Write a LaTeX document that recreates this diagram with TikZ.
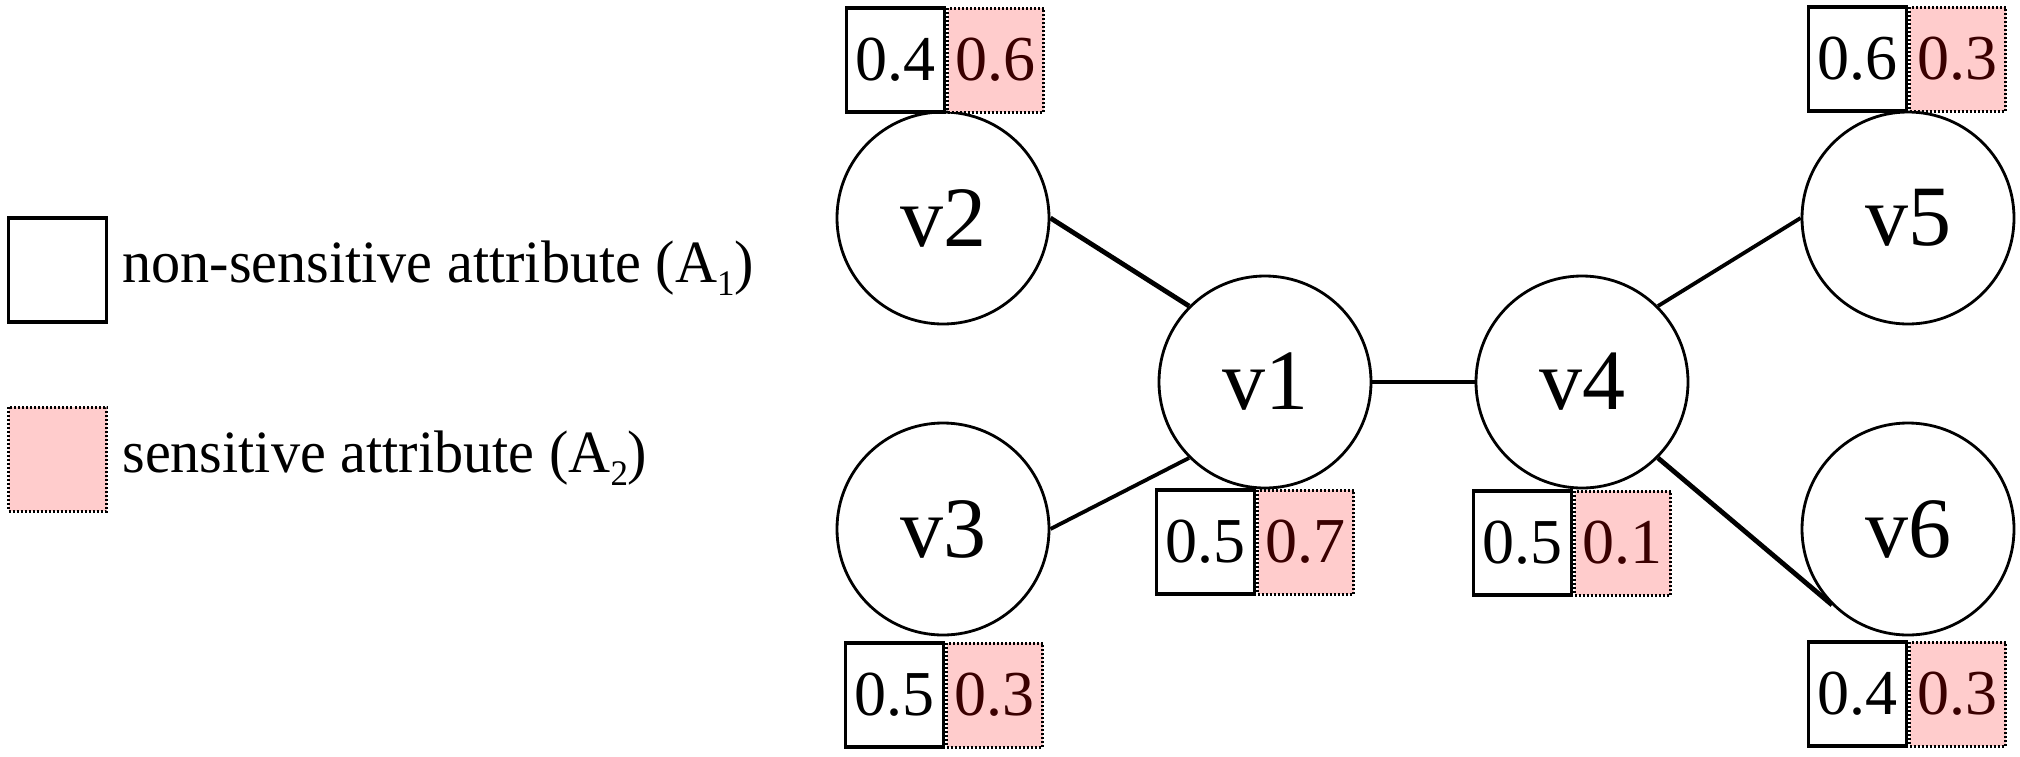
\documentclass[tikz,border=0pt]{standalone}
\usepackage{fontspec}
\setmainfont{Liberation Serif}
\newfontfamily\legendfont{Liberation Serif}[FakeStretch=0.97]
\newcommand{\mysub}[1]{\raisebox{-6.5pt}{\fontsize{18}{18}\selectfont #1}}
\definecolor{pinkA}{HTML}{FFCCCC}
\definecolor{darkredA}{HTML}{3A0000}
\begin{document}
\begin{tikzpicture}[x=0.5pt,y=-0.5pt,
  vnode/.style={circle,draw,line width=1.4pt,minimum size=106pt,inner sep=0pt,fill=white,font=\fontsize{43}{43}\selectfont},
  nsbox/.style={draw,line width=1.6pt,minimum width=49pt,minimum height=52pt,inner sep=0pt,font=\fontsize{32}{32}\selectfont},
  sbox/.style={draw,fill=pinkA,dash pattern=on 1pt off 1pt,line width=1.5pt,minimum width=48pt,minimum height=52pt,inner sep=0pt,text=darkredA,font=\fontsize{32}{32}\selectfont},
  lgwhite/.style={draw,line width=1.6pt,minimum width=49pt,minimum height=52pt,inner sep=0pt},
  lgpink/.style={draw,fill=pinkA,dash pattern=on 1pt off 1pt,line width=1.5pt,minimum width=49pt,minimum height=52pt,inner sep=0pt},
  lgtext/.style={anchor=base west,inner sep=0pt,font=\legendfont\fontsize{30}{30}\selectfont},
  edgeA/.style={line width=2.4pt},
  edgeB/.style={line width=1.9pt}]
\useasboundingbox (0,0) rectangle (2020,756);

% legend
\node[lgwhite] (lw) at (57.5,270) {};
\node[lgpink] (lp) at (57.5,459) {};
\node[lgtext] (lt1) at (122,282) {non-sensitive attribute (A\mysub{1})};
\node[lgtext] (lt2) at (122,472) {sensitive attribute (A\mysub{2})};

% vertices
\node[vnode] (v1) at (1265,382) {v1};
\node[vnode] (v2) at (943,218) {v2};
\node[vnode] (v3) at (943,529) {v3};
\node[vnode] (v4) at (1582,382) {v4};
\node[vnode] (v5) at (1908,218) {v5};
\node[vnode] (v6) at (1908,529) {v6};

% edges
\draw[edgeA] (v2.east) -- (v1.north west);
\draw[edgeB] (v3.east) -- (v1.south west);
\draw[edgeA] (v1.east) -- (v4.west);
\draw[edgeB] (v4.north east) -- (v5.west);
\draw[edgeA] (v4.south east) -- (v6.south west);

% attribute boxes
\node[sbox,anchor=west] (v2s) at (946,60) {0.6};
\node[nsbox,anchor=east] (v2n) at (946,60) {0.4};
\node[sbox,anchor=west] (v5s) at (1908,59) {0.3};
\node[nsbox,anchor=east] (v5n) at (1908,59) {0.6};
\node[sbox,anchor=west] (v1s) at (1256,542) {0.7};
\node[nsbox,anchor=east] (v1n) at (1256,542) {0.5};
\node[sbox,anchor=west] (v4s) at (1573,543) {0.1};
\node[nsbox,anchor=east] (v4n) at (1573,543) {0.5};
\node[sbox,anchor=west] (v3s) at (945,695) {0.3};
\node[nsbox,anchor=east] (v3n) at (945,695) {0.5};
\node[sbox,anchor=west] (v6s) at (1908,694) {0.3};
\node[nsbox,anchor=east] (v6n) at (1908,694) {0.4};
\end{tikzpicture}
\end{document}
